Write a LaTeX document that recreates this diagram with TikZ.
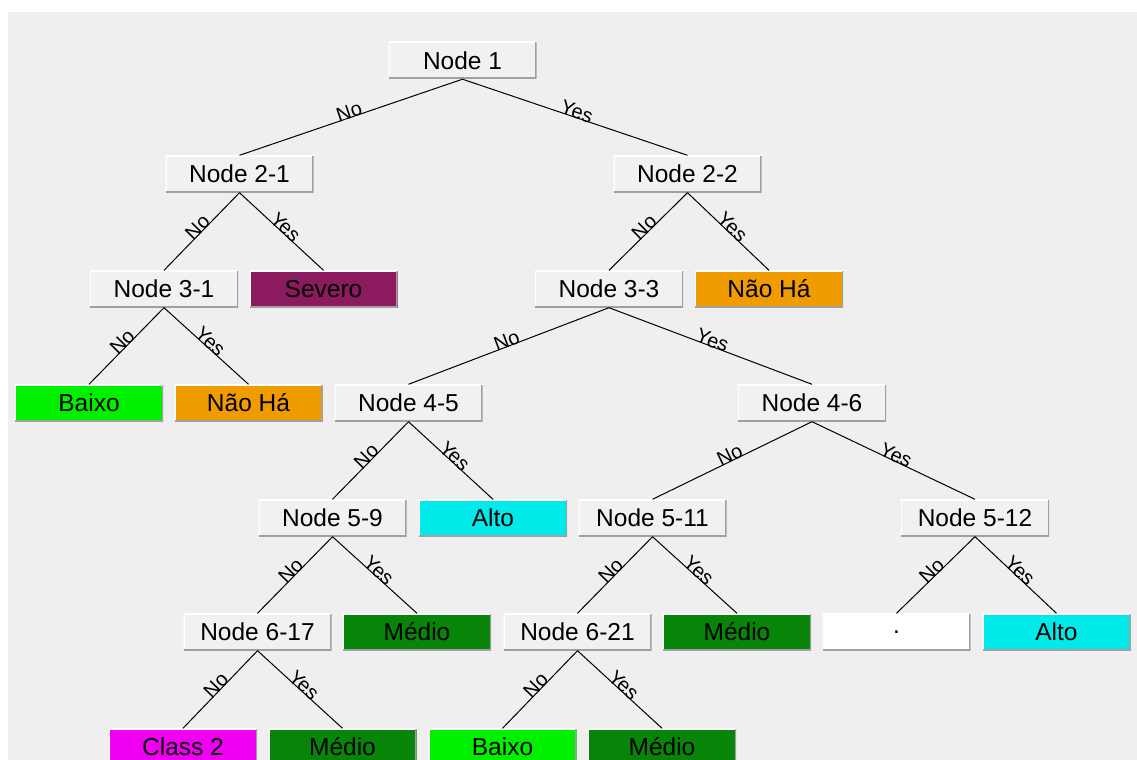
\documentclass[tikz,border=0pt]{standalone}
\usepackage{fontspec}
\setmainfont{Liberation Sans}
\definecolor{bgc}{RGB}{239,239,239}
\definecolor{nodec}{RGB}{241,241,241}
\definecolor{severoc}{RGB}{140,26,94}
\definecolor{naohac}{RGB}{240,156,0}
\definecolor{baixoc}{RGB}{0,240,0}
\definecolor{altoc}{RGB}{0,234,234}
\definecolor{medioc}{RGB}{8,132,8}
\definecolor{classc}{RGB}{240,0,240}
\definecolor{shadec}{RGB}{160,160,160}
\tikzset{
  tbox/.style={rectangle, minimum width=148bp, minimum height=37bp, inner sep=0pt,
    font=\fontsize{24.5bp}{28bp}\selectfont, fill=#1, text=black,
    path picture={
      \draw[white, line width=2.5bp] (path picture bounding box.south west) -- (path picture bounding box.north west) -- (path picture bounding box.north east);
      \draw[shadec, line width=3bp] (path picture bounding box.south west) -- (path picture bounding box.south east) -- (path picture bounding box.north east);
    }},
  tbox/.default=nodec,
  edge/.style={draw=black, line width=1bp},
  lbl/.style={midway, sloped, above=-1.5bp, inner sep=0pt, font=\fontsize{20bp}{22bp}\selectfont}
}
\begin{document}
\begin{tikzpicture}[x=1bp, y=-1bp]
\useasboundingbox (0,0) rectangle (1137,760);
\clip (0,0) rectangle (1137,760);
\fill[white] (0,0) rectangle (1137,760);
\fill[bgc] (8,12) rectangle (1137,760);

% level 1
\node[tbox] (n1) at (462.5,60.5) {Node 1};
% level 2
\node[tbox] (n21) at (239.5,174) {Node 2-1};
\node[tbox] (n22) at (687.5,174) {Node 2-2};
% level 3
\node[tbox] (n31) at (164,289) {Node 3-1};
\node[tbox=severoc] (sev) at (323.5,289) {Severo};
\node[tbox] (n33) at (609,289) {Node 3-3};
\node[tbox=naohac] (nh1) at (769,289) {Não Há};
% level 4
\node[tbox=baixoc] (bx1) at (89,403) {Baixo};
\node[tbox=naohac] (nh2) at (248.5,403) {Não Há};
\node[tbox] (n45) at (408.5,403) {Node 4-5};
\node[tbox] (n46) at (812,403) {Node 4-6};
% level 5
\node[tbox] (n59) at (332.5,518) {Node 5-9};
\node[tbox=altoc] (al1) at (493,518) {Alto};
\node[tbox] (n511) at (652.5,518) {Node 5-11};
\node[tbox] (n512) at (975,518) {Node 5-12};
% level 6
\node[tbox] (n617) at (257.5,632) {Node 6-17};
\node[tbox=medioc] (md1) at (417,632) {Médio};
\node[tbox] (n621) at (577.5,632) {Node 6-21};
\node[tbox=medioc] (md2) at (737,632) {Médio};
\node[tbox=white] (dot) at (896.5,632) {.};
\node[tbox=altoc] (al2) at (1056.5,632) {Alto};
% level 7
\node[tbox=classc] (cl2) at (183,747) {Class 2};
\node[tbox=medioc] (md3) at (342.5,747) {Médio};
\node[tbox=baixoc] (bx2) at (502.5,747) {Baixo};
\node[tbox=medioc] (md4) at (662,747) {Médio};

% edges
\draw[edge] (n1.south) -- node[lbl]{No} (n21.north);
\draw[edge] (n1.south) -- node[lbl]{Yes} (n22.north);
\draw[edge] (n21.south) -- node[lbl]{No} (n31.north);
\draw[edge] (n21.south) -- node[lbl]{Yes} (sev.north);
\draw[edge] (n22.south) -- node[lbl]{No} (n33.north);
\draw[edge] (n22.south) -- node[lbl]{Yes} (nh1.north);
\draw[edge] (n31.south) -- node[lbl]{No} (bx1.north);
\draw[edge] (n31.south) -- node[lbl]{Yes} (nh2.north);
\draw[edge] (n33.south) -- node[lbl]{No} (n45.north);
\draw[edge] (n33.south) -- node[lbl]{Yes} (n46.north);
\draw[edge] (n45.south) -- node[lbl]{No} (n59.north);
\draw[edge] (n45.south) -- node[lbl]{Yes} (al1.north);
\draw[edge] (n46.south) -- node[lbl]{No} (n511.north);
\draw[edge] (n46.south) -- node[lbl]{Yes} (n512.north);
\draw[edge] (n59.south) -- node[lbl]{No} (n617.north);
\draw[edge] (n59.south) -- node[lbl]{Yes} (md1.north);
\draw[edge] (n511.south) -- node[lbl]{No} (n621.north);
\draw[edge] (n511.south) -- node[lbl]{Yes} (md2.north);
\draw[edge] (n512.south) -- node[lbl]{No} (dot.north);
\draw[edge] (n512.south) -- node[lbl]{Yes} (al2.north);
\draw[edge] (n617.south) -- node[lbl]{No} (cl2.north);
\draw[edge] (n617.south) -- node[lbl]{Yes} (md3.north);
\draw[edge] (n621.south) -- node[lbl]{No} (bx2.north);
\draw[edge] (n621.south) -- node[lbl]{Yes} (md4.north);
\end{tikzpicture}
\end{document}
